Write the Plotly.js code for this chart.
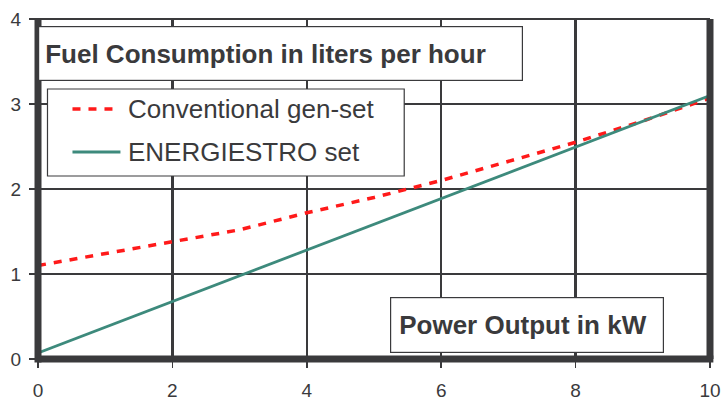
<!DOCTYPE html>
<html>
<head>
<meta charset="utf-8">
<script src="https://cdn.plot.ly/plotly-3.0.1.min.js"></script>
<style>html,body{margin:0;padding:0;background:#fff;}#chart{width:726px;height:401px;}</style>
</head>
<body>
<div id="chart"></div>
<script>
// Data
const conventionalX = [0, 1, 2, 3, 4, 5, 6, 7, 8, 9, 10];
const conventionalY = [1.1, 1.24, 1.37, 1.52, 1.72, 1.9, 2.1, 2.33, 2.55, 2.8, 3.07];
const energiestroX = [0, 10];
const energiestroY = [0.07, 3.1];
const seriesNames = ["Conventional gen-set", "ENERGIESTRO set"];
const xTicks = [0, 2, 4, 6, 8, 10];
const yTicks = [0, 1, 2, 3, 4];
const titleText = "Fuel Consumption in liters per hour";
const xLabelText = "Power Output in kW";

const dark = "#3a3a3c";
const font = "Liberation Sans, Arial, Helvetica, sans-serif";
const redStyle = {color: "#ff1a1a", width: 3.5, dash: "8px,8px"};
const greenStyle = {color: "#3d8a7c", width: 2.8};

const traces = [
  {x: conventionalX, y: conventionalY, name: seriesNames[0], mode: "lines", line: redStyle},
  {x: energiestroX, y: energiestroY, name: seriesNames[1], mode: "lines", line: greenStyle}
];

// pixel -> paper helpers for the layout boxes
const L = 37.5, R = 710, T = 19, B = 359;
const px = v => (v - L) / (R - L);
const py = v => (B - v) / (B - T);

const legendShapes = [
  {type: "rect", xref: "paper", yref: "paper", x0: px(47), x1: px(404), y0: py(176), y1: py(89),
   line: {color: dark, width: 1.2}, fillcolor: "#fff", layer: "above"},
  {type: "line", xref: "paper", yref: "paper", x0: px(72), x1: px(120), y0: py(109), y1: py(109),
   line: redStyle, layer: "above"},
  {type: "line", xref: "paper", yref: "paper", x0: px(72), x1: px(120), y0: py(152), y1: py(152),
   line: greenStyle, layer: "above"}
];

const layout = {
  width: 726, height: 401,
  margin: {l: L, r: 726 - R, t: T, b: 401 - B, pad: 0},
  paper_bgcolor: "#fff", plot_bgcolor: "#fff",
  font: {family: font, color: dark},
  showlegend: false,
  xaxis: {
    range: [0, 10], tickvals: xTicks, ticktext: xTicks.map(String),
    showgrid: true, gridcolor: dark, gridwidth: 2.5, zeroline: false, showline: false,
    ticks: "outside", ticklen: 8, tickwidth: 1.5, tickcolor: dark,
    tickfont: {family: font, size: 19, color: dark}, ticklabelstandoff: 6, fixedrange: true
  },
  yaxis: {
    range: [0, 4], tickvals: yTicks, ticktext: yTicks.map(String),
    showgrid: true, gridcolor: dark, gridwidth: 2.5, zeroline: false, showline: false,
    ticks: "outside", ticklen: 8, tickwidth: 1.5, tickcolor: dark,
    tickfont: {family: font, size: 19, color: dark}, ticklabelstandoff: 4, fixedrange: true
  },
  shapes: [
    {type: "line", xref: "paper", yref: "paper", x0: 0, x1: 1, y0: 1, y1: 1, line: {color: dark, width: 2}, layer: "above"},
    {type: "line", xref: "paper", yref: "paper", x0: 0, x1: 0, y0: -0.01, y1: 1.003, line: {color: dark, width: 7}, layer: "above"},
    {type: "line", xref: "paper", yref: "paper", x0: 0, x1: 1.005, y0: 0, y1: 0, line: {color: dark, width: 7}, layer: "above"},
    {type: "line", xref: "paper", yref: "paper", x0: 1, x1: 1, y0: 0, y1: 1, line: {color: dark, width: 7}, layer: "above"}
  ].concat(legendShapes),
  annotations: [
    {text: "<b>" + titleText + "</b>", xref: "paper", yref: "paper", x: 0, y: 0.979,
     xanchor: "left", yanchor: "top", showarrow: false, align: "left", valign: "middle",
     width: 471, height: 41, borderpad: 6, borderwidth: 1.2, bordercolor: dark, bgcolor: "#fff",
     font: {family: font, size: 26, color: dark}},
    {text: "<b>" + xLabelText + "</b>", xref: "paper", yref: "paper", x: 0.524, y: 0.182,
     xanchor: "left", yanchor: "top", showarrow: false, align: "left", valign: "middle",
     width: 256, height: 38, borderpad: 8, borderwidth: 1.2, bordercolor: dark, bgcolor: "#fff",
     font: {family: font, size: 26, color: dark}},
    {text: seriesNames[0], xref: "paper", yref: "paper", x: px(126), y: py(109),
     xanchor: "left", yanchor: "middle", showarrow: false, align: "left",
     font: {family: font, size: 26, color: dark}},
    {text: seriesNames[1], xref: "paper", yref: "paper", x: px(126), y: py(152),
     xanchor: "left", yanchor: "middle", showarrow: false, align: "left",
     font: {family: font, size: 26, color: dark}}
  ]
};

Plotly.newPlot("chart", traces, layout, {displayModeBar: false, staticPlot: true});
</script>
</body>
</html>
